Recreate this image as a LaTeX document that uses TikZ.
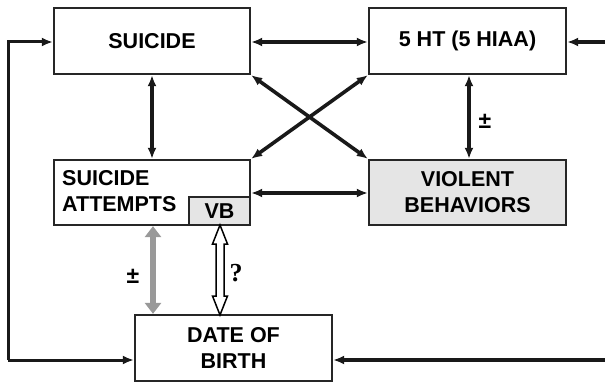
\documentclass[tikz,border=0pt]{standalone}
\usepackage{fontspec}
\setmainfont{Liberation Sans}
\newfontfamily\qfont{Liberation Serif}
\usetikzlibrary{arrows.meta}
\begin{document}
\begin{tikzpicture}[x=1pt,y=-1pt,
  box/.style={draw=black!85, line width=2.3pt, fill=white, inner sep=0pt, font=\fontsize{21.5}{26}\selectfont\bfseries, align=center},
  shaded/.style={box, fill=black!10},
  conn/.style={line width=3.6pt, black!90, {Latex[length=11pt,width=9pt]}-{Latex[length=11pt,width=9pt]}},
  oneway/.style={line width=3.6pt, black!90, -{Latex[length=11pt,width=9pt]}},
  loopline/.style={line width=3pt, black!90, -{Latex[length=11pt,width=9pt]}},
  lbl/.style={font=\fontsize{23}{26}\selectfont\bfseries, inner sep=0pt}
]
\useasboundingbox (0,0) rectangle (605,382);
\node[box, minimum width=196pt, minimum height=66pt] (sui) at (152,41) {SUICIDE};
\node[box, minimum width=197pt, minimum height=66pt] (ht) at (467.5,41) {5 HT (5 HIAA)};
\node[box, minimum width=196pt, minimum height=65pt] (sa) at (152,192.5) {};
\node[font=\fontsize{21.5}{26}\selectfont\bfseries, align=left, anchor=north west, inner sep=0pt] (satext) at (62,170) {SUICIDE\\ATTEMPTS};
\node[shaded, minimum width=61pt, minimum height=28pt] (vbs) at (219.5,211) {VB};
\node[shaded, minimum width=197pt, minimum height=65pt] (vb) at (467.5,192.5) {VIOLENT\\BEHAVIORS};
\node[box, minimum width=197pt, minimum height=66pt] (dob) at (233.5,348) {DATE OF\\BIRTH};

% horizontal links
\draw[conn] (sui.east |- 0,42) -- (ht.west |- 0,42);
\draw[conn] (sa.east |- 0,193) -- (vb.west |- 0,193);
% vertical links
\draw[conn] (sui.south) -- (sa.north);
\draw[conn] (ht.south -| 469,0) -- (vb.north -| 469,0);
% cross
\draw[conn] (sui.south east) -- (vb.north west);
\draw[conn] (ht.south west) -- (sa.north east);

% outer loops
\coordinate (lt) at (8,42);
\coordinate (lb) at (8,360);
\draw[loopline] (lb) -- (lt) -- (sui.west |- lt);
\draw[loopline] (lt |- lb) -- (dob.west |- lb);
\coordinate (rt) at (606,42);
\coordinate (rb) at (606,360);
\draw[oneway] (rt) -- (ht.east |- rt);
\draw[oneway] (rb) -- (dob.east |- rb);

% grey arrow
\draw[line width=6pt, black!40, {Triangle[length=11pt,width=16pt]}-{Triangle[length=11pt,width=16pt]}] (sa.south -| 153,0) -- (dob.north -| 153,0);
% hollow arrow
\draw[line width=1.5pt, black, fill=white] (220,225) -- (227.5,244) -- (224,244) -- (224,296) -- (227.5,296) -- (220,315) -- (212.5,296) -- (216,296) -- (216,244) -- (212.5,244) -- cycle;

% labels
\node[lbl] (pm1) at (485,121) {±};
\node[lbl] (pm2) at (133,276) {±};
\node[font=\fontsize{26}{28}\selectfont\bfseries\qfont, inner sep=0pt] (q) at (236,273) {?};
\end{tikzpicture}
\end{document}
